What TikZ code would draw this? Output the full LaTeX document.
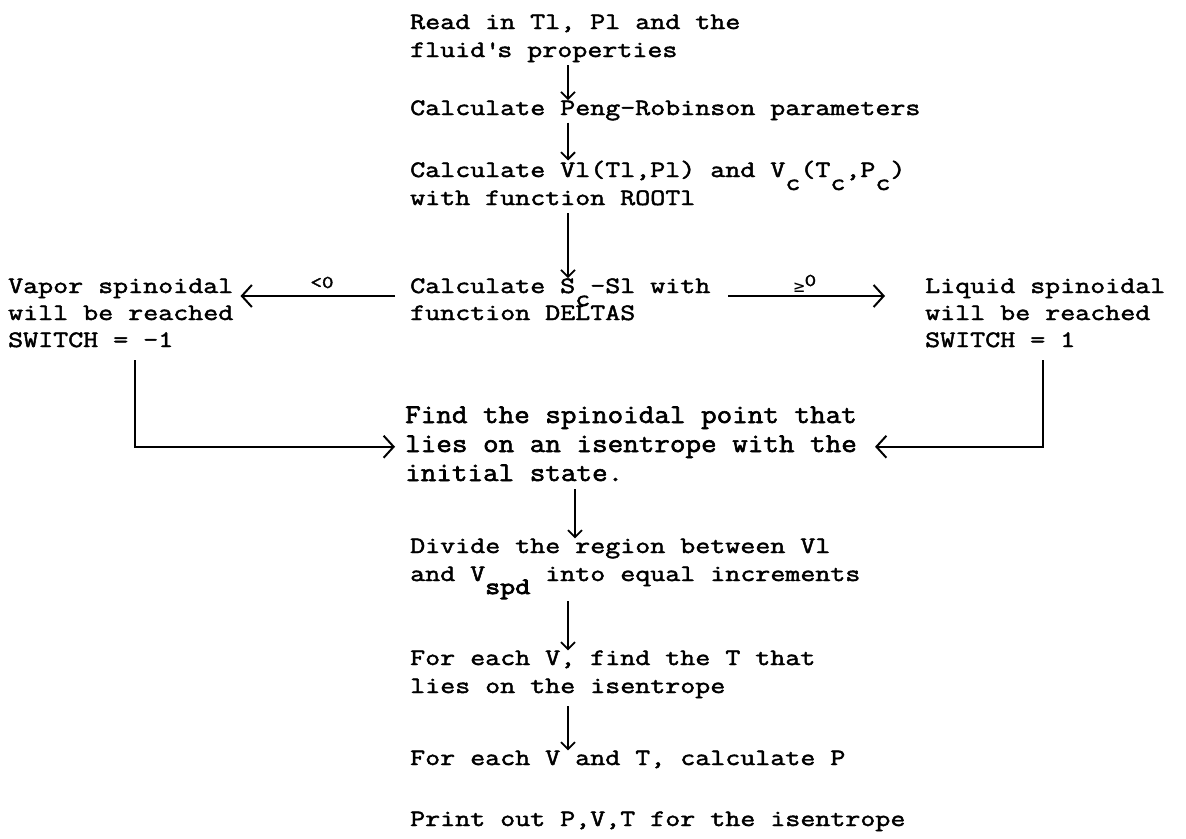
\documentclass[tikz,border=0pt]{standalone}
\usepackage{fontspec}
\setmonofont{Latin Modern Mono}[FakeStretch=1.24,FakeBold=2]
\newfontfamily\condfont{Latin Modern Mono}[FakeStretch=1.12,FakeBold=2.2]
\newfontfamily\heavytt{Latin Modern Mono}[FakeStretch=1.24,FakeBold=3.5]
\newfontfamily\symfont{DejaVu Sans Mono}
\usetikzlibrary{arrows.meta}
\newcommand\lowc[1]{\raisebox{-13pt}{#1}}
\begin{document}
\begin{tikzpicture}[x=1pt,y=-1pt,
  tw/.style={font=\ttfamily\fontsize{23.5}{28}\selectfont, inner sep=0pt, anchor=base west},
  cf/.style={font=\condfont\fontsize{27}{30}\selectfont, inner sep=0pt, anchor=base west},
  lab/.style={font=\ttfamily\fontsize{18}{18}\selectfont, inner sep=0pt, anchor=base},
  varr/.style={line width=1.8pt, -{Straight Barb[length=7pt,width=14pt,line width=1.8pt]}},
  harr/.style={line width=1.8pt, -{Straight Barb[length=10pt,width=22pt,line width=2pt]}}]
\useasboundingbox (0,0) rectangle (1186,838);
% main column
\node[tw] (t1) at (410,29) {Read in Tl, Pl and the};
\node[tw] (t2) at (410,57) {fluid\textquotesingle s properties};
\node[tw] (t3) at (410,115) {Calculate Peng-Robinson parameters};
\node[tw] (t4) at (410,177) {Calculate Vl(Tl,Pl) and V\lowc{c}(T\lowc{c},P\lowc{c})};
\node[tw] (t5) at (410,205) {with function ROOTl};
\node[tw] (t6) at (410,293) {Calculate S\lowc{c}-Sl with};
\node[tw] (t7) at (410,320) {function DELTAS};
% side columns
\node[tw] (l1) at (8,293) {Vapor spinoidal};
\node[tw] (l2) at (8,320) {will be reached};
\node[tw] (l3) at (8,347) {SWITCH = -1};
\node[tw] (r1) at (925,293) {Liquid spinoidal};
\node[tw] (r2) at (925,320) {will be reached};
\node[tw] (r3) at (925,347) {SWITCH = 1};
% spinoidal block
\node[cf] (f1) at (405,423) {Find the spinoidal point that};
\node[cf] (f2) at (405,452) {lies on an isentrope with the};
\node[cf] (f3) at (405,481) {initial state.};
% lower column
\node[tw] (d1) at (410,553) {Divide the region between Vl};
\node[tw] (d2) at (410,581) {and V\lowc{\heavytt spd} into equal increments};
\node[tw] (e1) at (410,665) {For each V, find the T that};
\node[tw] (e2) at (410,693) {lies on the isentrope};
\node[tw] (g1) at (410,765) {For each V and T, calculate P};
\node[tw] (p1) at (410,826) {Print out P,V,T for the isentrope};
% vertical arrows
\coordinate (ax) at (568,0);
\coordinate (bx) at (575,0);
\draw[varr, shorten <=3pt] (t2.south -| ax) -- (t3.north -| ax);
\draw[varr, shorten <=2pt] (t3.south -| ax) -- (t4.north -| ax);
\draw[varr, shorten <=8pt] (t5.south -| ax) -- (t6.north -| ax);
\draw[varr, shorten <=8pt] (f3.south -| bx) -- (d1.north -| bx);
\draw[varr, shorten <=2pt] (d2.south -| ax) -- (e1.north -| ax);
\draw[varr, shorten <=8pt] (e2.south -| ax) -- (g1.north -| ax);
% horizontal branch arrows
\coordinate (ml) at (395,296);
\coordinate (mr) at (728,296);
\draw[harr, shorten >=7pt] (ml) -- (l1.east |- ml);
\draw[harr, shorten >=40pt] (mr) -- (r1.west |- mr);
\node[lab] (lt) at (322,288) {<0};
\node[lab] (gt) at (805,292) {{\symfont ≥}\raisebox{6pt}{0}};
% return lines
\coordinate (lvx) at (135,0);
\coordinate (rvx) at (1043,0);
\draw[harr, shorten <=13pt, shorten >=10pt] (l3.south -| lvx) |- (f2.west);
\draw[harr, shorten <=13pt, shorten >=18pt] (r3.south -| rvx) |- (f2.east);
\end{tikzpicture}
\end{document}
